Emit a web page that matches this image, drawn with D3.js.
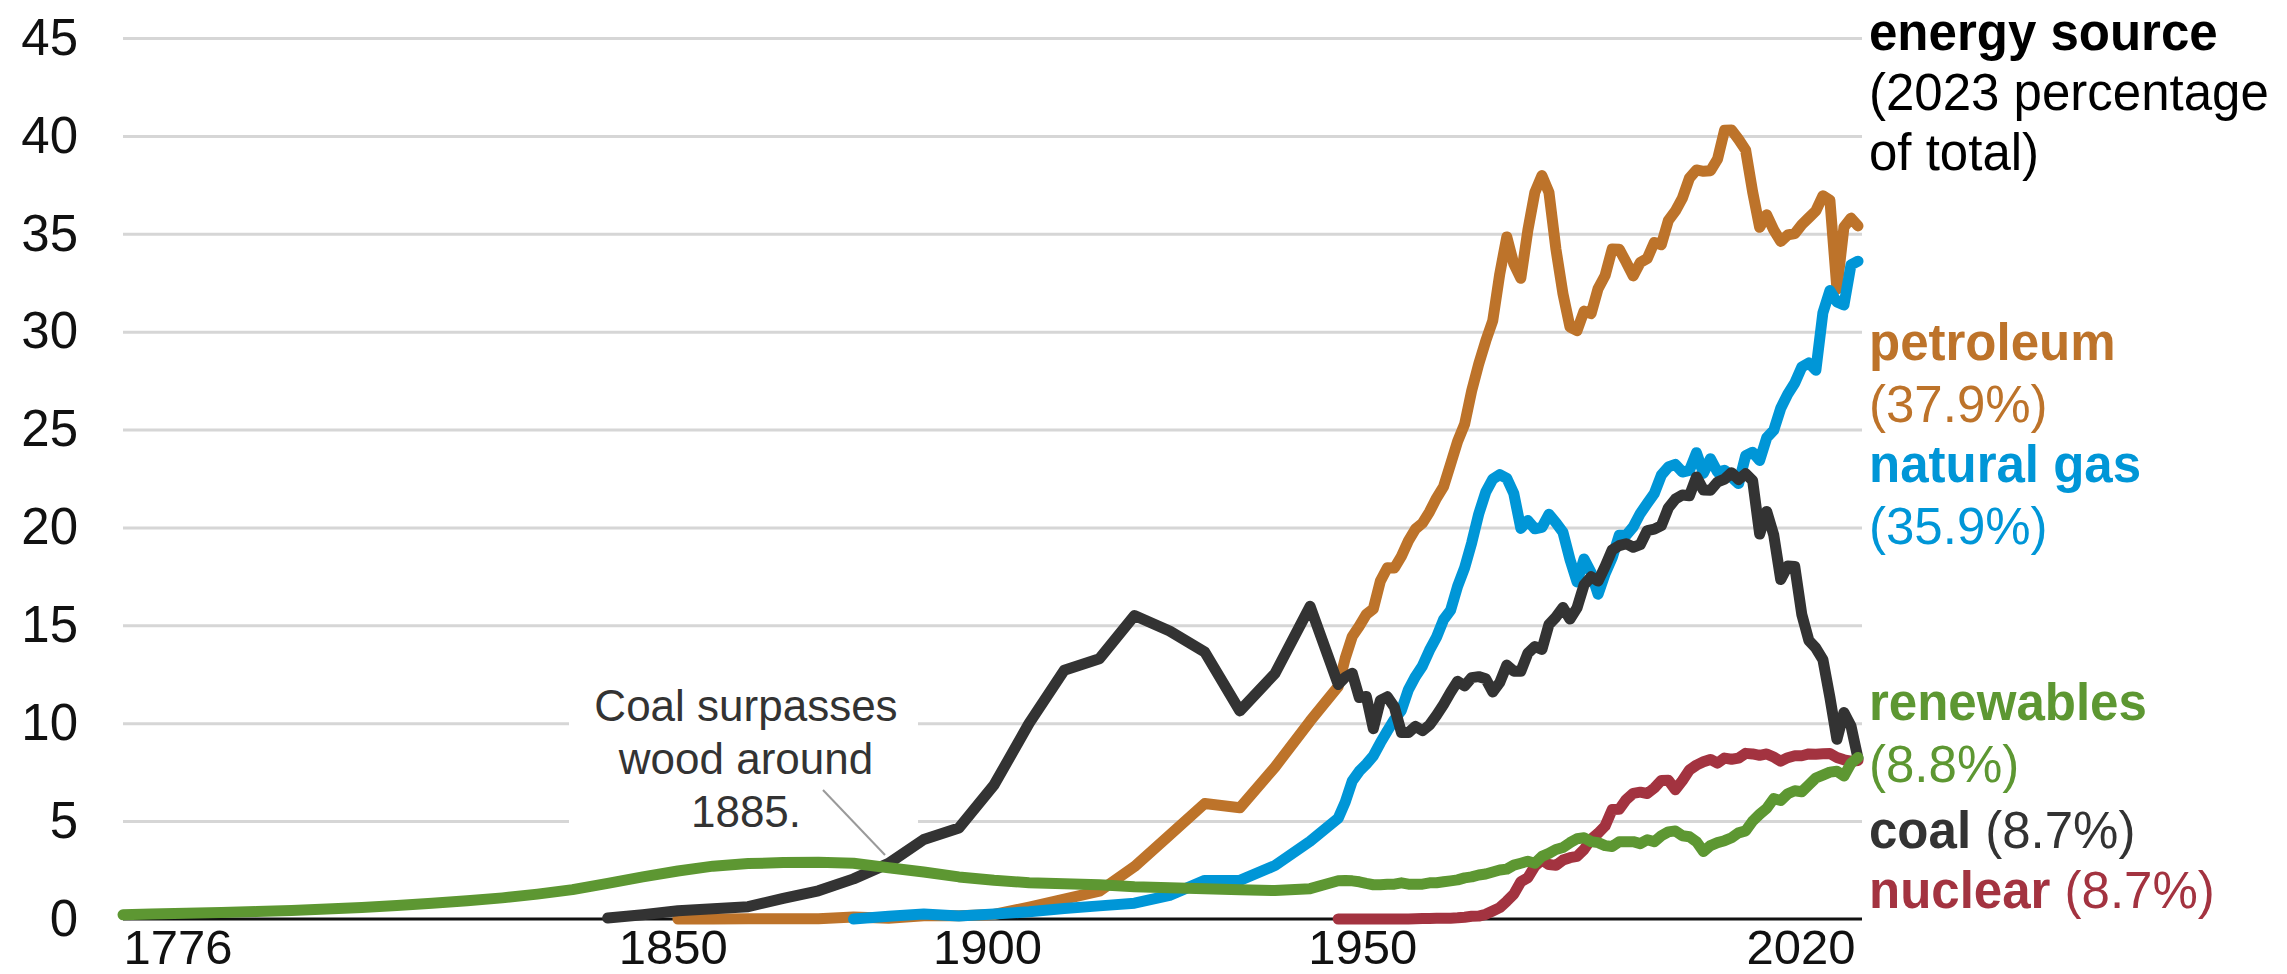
<!DOCTYPE html>
<html>
<head>
<meta charset="utf-8">
<script src="https://cdn.jsdelivr.net/npm/d3@7"></script>
<style>
  body { margin: 0; background: #fff; }
  text { font-family: "Liberation Sans", Arial, sans-serif; }
</style>
</head>
<body>
<div class="container"></div>
<script>
// U.S. primary energy consumption by major source, quadrillion Btu
const histYears = [1776, 1780, 1785, 1790, 1795, 1800, 1805, 1810, 1815, 1820, 1825, 1830, 1835, 1840, 1845,
  1850, 1855, 1860, 1865, 1870, 1875, 1880, 1885, 1890, 1895, 1900, 1905, 1910, 1915, 1920, 1925, 1930, 1935, 1940, 1945];
const modernYears = d3.range(1949, 2024);

const petroleumHist = [null, null, null, null, null, null, null, null, null, null, null, null, null, null, null, null,
  0.0, 0.0, 0.01, 0.01, 0.01, 0.1, 0.04, 0.16, 0.17, 0.23, 0.61, 1.01, 1.42, 2.68, 4.28, 5.9, 5.68, 7.76, 10.11];
const gasHist = [null, null, null, null, null, null, null, null, null, null, null, null, null, null, null, null, null,
  null, null, null, null, 0.0, 0.14, 0.26, 0.15, 0.25, 0.37, 0.54, 0.67, 0.81, 1.21, 1.97, 1.97, 2.73, 3.97];
const coalHist = [null, null, null, null, null, null, null, null, null, null, null, null, null, null,
  0.05, 0.22, 0.42, 0.52, 0.63, 1.05, 1.44, 2.05, 2.84, 4.06, 4.65, 6.84, 10.0, 12.71, 13.29, 15.5, 14.71, 13.64, 10.63, 12.54, 15.97];
const nuclearHist = histYears.map(() => null);
const renewHist = [0.22, 0.25, 0.29, 0.33, 0.38, 0.44, 0.51, 0.59, 0.69, 0.8, 0.93, 1.08, 1.27, 1.5, 1.82,
  2.15, 2.45, 2.7, 2.83, 2.88, 2.9, 2.85, 2.62, 2.4, 2.15, 1.98, 1.85, 1.8, 1.75, 1.65, 1.6, 1.55, 1.5, 1.45, 1.55];

// 1949-2023, annual
const petroleum = [11.88, 13.32, 14.43, 14.96, 15.56, 15.84, 17.26, 17.94, 17.93, 18.53, 19.32, 19.92, 20.22, 20.8, 21.5,
  22.08, 23.24, 24.4, 25.28, 26.98, 28.34, 29.52, 30.56, 32.95, 34.84, 33.46, 32.73, 35.18, 37.12, 37.97, 37.12,
  34.21, 31.93, 30.23, 30.05, 31.05, 30.92, 32.2, 32.87, 34.22, 34.21, 33.55, 32.85, 33.53, 33.74, 34.56, 34.44,
  35.68, 36.16, 36.82, 37.84, 38.26, 38.19, 38.22, 38.81, 40.29, 40.3, 39.82, 39.28, 37.14, 35.33, 35.97, 35.2,
  34.61, 34.94, 35.01, 35.47, 35.82, 36.17, 36.94, 36.72, 32.18, 35.34, 35.8, 35.4];
const naturalGas = [5.15, 5.97, 7.05, 7.55, 7.91, 8.33, 9.0, 9.61, 10.19, 10.66, 11.72, 12.39, 12.93, 13.73, 14.4,
  15.29, 15.77, 17.0, 17.94, 19.21, 20.68, 21.8, 22.47, 22.7, 22.51, 21.73, 19.95, 20.35, 19.93, 20.0, 20.67,
  20.24, 19.75, 18.36, 17.22, 18.39, 17.7, 16.59, 17.64, 18.45, 19.6, 19.6, 20.03, 20.71, 21.23, 21.73, 22.67,
  23.09, 23.22, 22.83, 22.91, 23.82, 22.77, 23.51, 22.83, 22.92, 22.57, 22.24, 23.66, 23.84, 23.42, 24.58, 24.96,
  26.09, 26.81, 27.38, 28.19, 28.4, 28.03, 30.96, 32.1, 31.52, 31.36, 33.41, 33.6];
const coal = [11.98, 12.35, 12.55, 11.31, 11.37, 9.72, 11.17, 11.35, 10.82, 9.53, 9.52, 9.84, 9.62, 9.91, 10.41,
  10.96, 11.58, 12.14, 11.91, 12.33, 12.38, 12.27, 11.6, 12.08, 12.97, 12.66, 12.66, 13.58, 13.92, 13.77, 15.04,
  15.42, 15.91, 15.32, 15.89, 17.07, 17.48, 17.26, 18.01, 18.85, 19.07, 19.17, 18.99, 19.12, 19.84, 19.91, 20.09,
  21.0, 21.45, 21.66, 21.62, 22.58, 21.91, 21.9, 22.32, 22.47, 22.8, 22.45, 22.75, 22.39, 19.66, 20.82, 19.62,
  17.34, 18.03, 18.0, 15.55, 14.23, 13.84, 13.25, 11.32, 9.18, 10.55, 9.86, 8.2];
const nuclear = [0, 0, 0, 0, 0, 0, 0, 0, 0.0, 0.0, 0.0, 0.01, 0.02, 0.03, 0.04,
  0.04, 0.04, 0.06, 0.09, 0.14, 0.15, 0.24, 0.41, 0.58, 0.91, 1.27, 1.9, 2.11, 2.7, 3.02, 2.78,
  2.74, 3.01, 3.13, 3.2, 3.55, 4.08, 4.38, 4.75, 5.59, 5.6, 6.1, 6.42, 6.48, 6.41, 6.69, 7.08,
  7.09, 6.6, 7.07, 7.61, 7.86, 8.03, 8.15, 7.96, 8.22, 8.16, 8.22, 8.46, 8.43, 8.36, 8.43, 8.27,
  8.06, 8.24, 8.34, 8.34, 8.43, 8.42, 8.44, 8.45, 8.25, 8.13, 8.06, 8.1];
const renewables = [1.95, 1.97, 1.95, 1.9, 1.82, 1.75, 1.75, 1.78, 1.78, 1.85, 1.78, 1.78, 1.78, 1.85, 1.85,
  1.9, 1.95, 2.0, 2.1, 2.15, 2.25, 2.3, 2.4, 2.5, 2.55, 2.75, 2.85, 2.95, 2.85, 3.2, 3.35,
  3.55, 3.65, 3.9, 4.1, 4.15, 3.95, 3.9, 3.75, 3.7, 3.95, 3.95, 3.95, 3.85, 4.05, 3.95, 4.25,
  4.45, 4.5, 4.25, 4.2, 3.95, 3.45, 3.75, 3.9, 4.0, 4.15, 4.4, 4.5, 5.0, 5.35, 5.65, 6.15,
  6.05, 6.4, 6.55, 6.5, 6.85, 7.2, 7.35, 7.5, 7.55, 7.3, 7.95, 8.25];

const yTicks = [0, 5, 10, 15, 20, 25, 30, 35, 40, 45];
const xTicks = [1776, 1850, 1900, 1950, 2020];

const years = histYears.concat(modernYears);
const series = [
  { name: "petroleum", share: "(37.9%)", color: "#bd732a", values: petroleumHist.concat(petroleum) },
  { name: "natural gas", share: "(35.9%)", color: "#0096d7", values: gasHist.concat(naturalGas) },
  { name: "coal", share: "(8.7%)", color: "#333333", values: coalHist.concat(coal) },
  { name: "nuclear", share: "(8.7%)", color: "#a33340", values: nuclearHist.concat(nuclear) },
  { name: "renewables", share: "(8.8%)", color: "#5d9732", values: renewHist.concat(renewables) }
];

const width = 2287, height = 974;
const x0 = 123, x1 = 1858, yTop = 38, yBottom = 919;
const fontSize = 51;

const svg = d3.select(".container")
  .append("svg")
  .attr("width", width)
  .attr("height", height);

const x = d3.scaleLinear().domain([1776, 2023]).range([x0, x1]);
const y = d3.scaleLinear().domain([0, 45]).range([yBottom, yTop]);

// gridlines + y labels
const yAxis = svg.append("g")
  .attr("transform", `translate(${x0},0)`)
  .call(d3.axisLeft(y).tickValues(yTicks).tickSize(-(1862 - x0)).tickPadding(45));
yAxis.select(".domain").remove();
yAxis.selectAll(".tick line")
  .attr("stroke", "#d6d6d6")
  .attr("stroke-width", 3)
  .attr("display", d => d === 0 ? "none" : null);
yAxis.selectAll(".tick text")
  .attr("fill", "#111")
  .style("font-size", fontSize + "px");

// annotation background hides gridlines
svg.append("rect")
  .attr("x", 569).attr("y", 680)
  .attr("width", 349).attr("height", 160)
  .attr("fill", "#fff");

// x axis
const xAxis = svg.append("g")
  .attr("transform", `translate(0,${yBottom})`)
  .call(d3.axisBottom(x).tickValues(xTicks).tickSize(0).tickPadding(10).tickFormat(d3.format("d")));
xAxis.select(".domain").remove();
const labelNudge = { 1776: 0, 1850: 30, 1900: -7, 1950: 17, 2020: 18 };
xAxis.selectAll(".tick text")
  .attr("fill", "#111")
  .style("font-size", "49px")
  .attr("text-anchor", d => d === 1776 ? "start" : d === 2020 ? "end" : "middle")
  .attr("dx", d => labelNudge[d]);

svg.append("line")
  .attr("x1", x0).attr("x2", 1862)
  .attr("y1", yBottom).attr("y2", yBottom)
  .attr("stroke", "#111")
  .attr("stroke-width", 3);

// series lines
const line = d3.line()
  .defined(d => d.v !== null)
  .x(d => x(d.year))
  .y(d => y(d.v));

svg.append("g")
  .selectAll("path")
  .data(series)
  .enter()
  .append("path")
  .attr("d", s => line(years.map((yr, i) => ({ year: yr, v: s.values[i] }))))
  .attr("fill", "none")
  .attr("stroke", s => s.color)
  .attr("stroke-width", 11)
  .attr("stroke-linejoin", "round")
  .attr("stroke-linecap", "round");

// annotation
svg.append("line")
  .attr("x1", 823).attr("y1", 790)
  .attr("x2", 885).attr("y2", 855)
  .attr("stroke", "#9a9a9a")
  .attr("stroke-width", 2);
const note = svg.append("text")
  .attr("text-anchor", "middle")
  .attr("fill", "#333")
  .style("font-size", "44px");
["Coal surpasses", "wood around", "1885."].forEach((t, i) => {
  note.append("tspan").attr("x", 746).attr("y", 721 + i * 53).text(t);
});

// legend
const lx = 1869;
const head = svg.append("text").attr("fill", "#000").style("font-size", fontSize + "px");
head.append("tspan").attr("x", lx).attr("y", 50).style("font-weight", "bold").text("energy source");
head.append("tspan").attr("x", lx).attr("y", 110).text("(2023 percentage");
head.append("tspan").attr("x", lx).attr("y", 170).text("of total)");

const legendRows = [
  { s: "petroleum", y: 360, split: true },
  { s: "natural gas", y: 482, split: true },
  { s: "renewables", y: 720, split: true },
  { s: "coal", y: 848, split: false },
  { s: "nuclear", y: 908, split: false }
];
legendRows.forEach(r => {
  const s = series.find(d => d.name === r.s);
  const t = svg.append("text").attr("fill", s.color).style("font-size", fontSize + "px");
  t.append("tspan").attr("x", lx).attr("y", r.y).style("font-weight", "bold").text(s.name);
  if (r.split) {
    t.append("tspan").attr("x", lx).attr("y", r.y + 62).text(s.share);
  } else {
    t.append("tspan").text(" " + s.share);
  }
});
</script>
</body>
</html>
